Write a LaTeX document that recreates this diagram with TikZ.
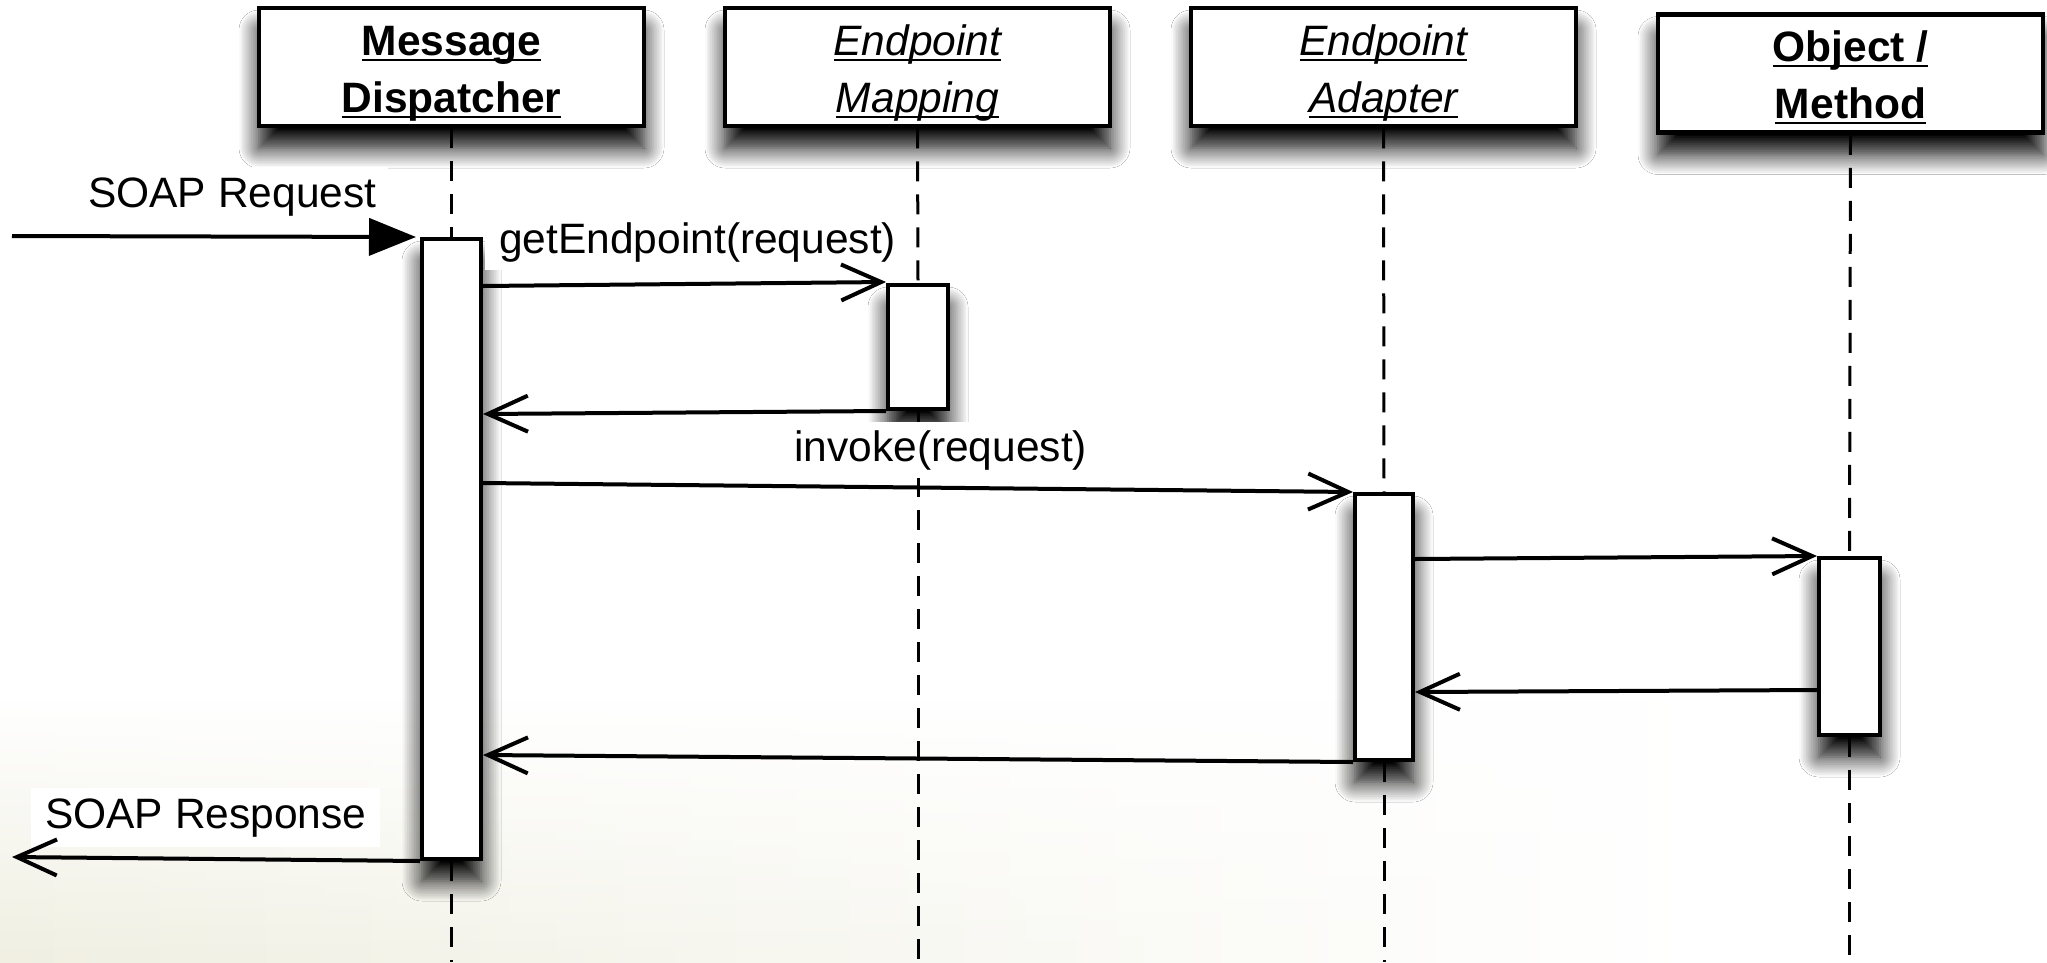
\documentclass[tikz,border=0pt]{standalone}
\usepackage{fontspec}
\setmainfont{Liberation Sans}
\usetikzlibrary{arrows.meta,shadows.blur,fadings}
\newcommand\ulx[1]{\setbox0\hbox{#1}\rlap{\rule[-6.3pt]{\wd0}{2.6pt}}\box0}
\definecolor{wash}{RGB}{240,239,226}
\begin{document}
\begin{tikzpicture}[x=1pt,y=1pt,
  shd/.style={blur shadow={shadow xshift=0pt,shadow yshift=-22pt,shadow blur radius=20pt,shadow blur steps=12,shadow opacity=100}},
  hdr/.style={draw,line width=4.5pt,fill=white,inner sep=0pt,minimum width=385pt,minimum height=118pt,shd},
  actbar/.style={draw,line width=4pt,fill=white,inner sep=0pt,anchor=north,shd},
  txt/.style={font=\fontsize{42.5}{51}\selectfont,inner sep=0pt,anchor=base},
  life/.style={line width=3pt,dash pattern=on 20pt off 13pt},
  msg/.style={line width=4pt,-{Straight Barb[length=40pt,width=36pt]}},
  mlabel/.style={font=\fontsize{42.5}{51}\selectfont,fill=white,anchor=base west,inner xsep=0pt,inner ysep=0pt}
]
\useasboundingbox (0,0) rectangle (2047,-962);
\fill[white] (0,0) rectangle (2047,-962);
\shade[left color=wash,right color=white,path fading=north] (0,-700) rectangle (1700,-962);

% headers
\node[hdr] (md) at (451.5,-67) {};
\node[hdr] (em) at (917.5,-67) {};
\node[hdr] (ea) at (1383.5,-67) {};
\node[hdr] (om) at (1850.5,-73.5) {};
\node[txt,font=\fontsize{42.5}{51}\selectfont\bfseries] (md1) at (451.5,-55) {\ulx{Message}};
\node[txt,font=\fontsize{42.5}{51}\selectfont\bfseries] (md2) at (451.5,-112) {\ulx{Dispatcher}};
\node[txt,font=\fontsize{42.5}{51}\selectfont\itshape] (em1) at (917.5,-55) {\ulx{Endpoint}};
\node[txt,font=\fontsize{42.5}{51}\selectfont\itshape] (em2) at (917.5,-112) {\ulx{Mapping}};
\node[txt,font=\fontsize{42.5}{51}\selectfont\itshape] (ea1) at (1383.5,-55) {\ulx{Endpoint}};
\node[txt,font=\fontsize{42.5}{51}\selectfont\itshape] (ea2) at (1383.5,-112) {\ulx{Adapter}};
\node[txt,font=\fontsize{42.5}{51}\selectfont\bfseries] (om1) at (1850.5,-61) {\ulx{Object /}};
\node[txt,font=\fontsize{42.5}{51}\selectfont\bfseries] (om2) at (1850.5,-118) {\ulx{Method}};

% activation bars
\node[actbar,minimum width=59pt,minimum height=620pt] (db) at (451.5,-237) {};
\node[actbar,minimum width=60pt,minimum height=124pt] (mb) at (918,-283) {};
\node[actbar,minimum width=58pt,minimum height=266pt] (ab) at (1384,-492) {};
\node[actbar,minimum width=61pt,minimum height=177pt] (ob) at (1849.5,-556) {};

% end points of the lifelines
\coordinate (dend) at (451.5,-962);
\coordinate (mend) at (918,-962);
\coordinate (aend) at (1384,-962);
\coordinate (oend) at (1849.5,-962);

% lifelines
\draw[life] (md.south) -- (db.north);
\draw[life] (db.south) -- (dend);
\draw[life] (em.south) -- (mb.north);
\draw[life] (mb.south) -- (mend);
\draw[life] (ea.south) -- (ab.north);
\draw[life] (ab.south) -- (aend);
\draw[life] (om.south) -- (ob.north);
\draw[life] (ob.south) -- (oend);

% labels
\node[mlabel,inner xsep=12pt,inner ysep=10pt] (lreq) at (76,-207) {SOAP Request};
\node[mlabel,inner xsep=14pt,inner ysep=8pt] (lget) at (485,-253) {getEndpoint(request)};
\node[mlabel,inner xsep=14pt,inner ysep=8pt] (linv) at (780,-461) {invoke(request)};
\node[mlabel,inner xsep=14pt,inner ysep=10pt] (lres) at (31,-828) {SOAP Response};

% free ends
\coordinate (reqstart) at (12,-236);
\coordinate (resend) at (12,-857);

% messages
\draw[line width=4pt,-{Triangle[length=47pt,width=37pt]}] (reqstart) -- ([xshift=-4pt]db.north west);
\draw[msg] (db.east |- 0,-286) -- (mb.west |- 0,-282);
\draw[msg] (mb.south west) -- (db.east |- 0,-414);
\draw[msg] (db.east |- 0,-483) -- (ab.west |- 0,-492);
\draw[msg] (ab.east |- 0,-559) -- (ob.west |- 0,-556);
\draw[msg] (ob.west |- 0,-690) -- (ab.east |- 0,-692);
\draw[msg] (ab.south west) -- (db.east |- 0,-755);
\draw[msg] (db.south west) -- (resend);
\end{tikzpicture}
\end{document}
